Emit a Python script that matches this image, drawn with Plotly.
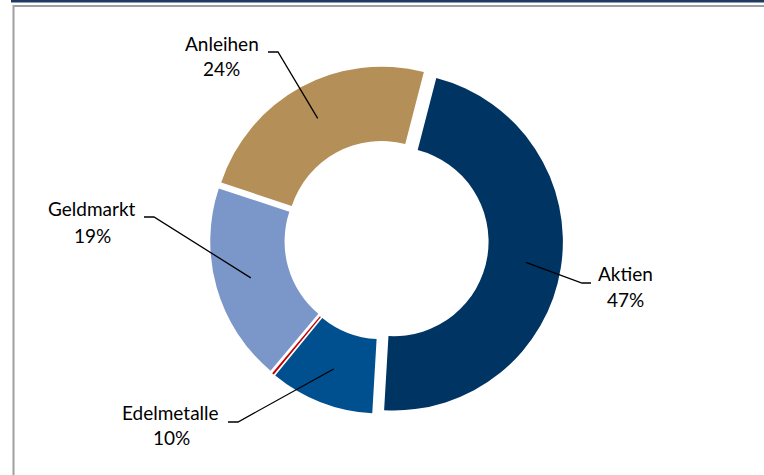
import math
import plotly.graph_objects as go

# ---- data ----
categories = ["Aktien", "Edelmetalle", "Sonstiges", "Geldmarkt", "Anleihen"]
values = [47, 10, 0.2, 19, 24]
pct_labels = ["47%", "10%", "", "19%", "24%"]
colors = ["#003462", "#00508F", "#C00000", "#7B96C8", "#B58F58"]
pulls = [0.06, 0.03, 0.03, 0.03, 0.03]

# ---- layout config (pixels) ----
W, H = 764, 475
CX, CY = 384, 240          # pie centre
DOM = 358                  # pie domain size (px)
ROT = 14.5
HOLE = 0.56
ANCHOR_FRAC = 0.79
FONT = "Lato"
FS = 19
# label config: (elbow_near, elbow_far, line1_center, line2_center)
label_cfg = {
    "Anleihen":    ((278, 52), (268, 52), (222, 44), (221, 68)),
    "Geldmarkt":   ((154, 217), (144, 217), (92, 208), (92, 235)),
    "Edelmetalle": ((238, 422), (228, 422), (170, 412), (171, 437)),
    "Aktien":      ((582, 283), (591, 283), (625, 273), (625, 299)),
}

def px2paper(x, y):
    return x / W, 1 - y / H

x0, y0 = px2paper(CX - DOM / 2, CY + DOM / 2)
x1, y1 = px2paper(CX + DOM / 2, CY - DOM / 2)

fig = go.Figure(go.Pie(
    labels=categories, values=values, sort=False, direction="clockwise",
    rotation=ROT, hole=HOLE, pull=pulls, textinfo="none", hoverinfo="skip",
    marker=dict(colors=colors, line=dict(width=0)),
    domain=dict(x=[x0, x1], y=[y0, y1]), showlegend=False,
))

R = DOM / 2 / (1 + max(pulls))
total = sum(values)
shapes = []
annotations = []
cum = 0
for cat, v, p, pl in zip(categories, values, pulls, pct_labels):
    mid = math.radians(ROT + (cum + v / 2) / total * 360)
    cum += v
    if cat not in label_cfg:
        continue
    sx, sy = math.sin(mid), -math.cos(mid)
    ax = CX + sx * (p * R + ANCHOR_FRAC * R)
    ay = CY + sy * (p * R + ANCHOR_FRAC * R)
    near, far, l1, l2 = label_cfg[cat]
    pts = [(ax, ay), near, far]
    path = "M " + " L ".join(f"{px2paper(*q)[0]:.5f},{px2paper(*q)[1]:.5f}" for q in pts)
    shapes.append(dict(type="path", xref="paper", yref="paper", path=path,
                       line=dict(color="black", width=1.3)))
    for txt, (tx, ty) in ((cat, l1), (pl, l2)):
        px, py = px2paper(tx, ty)
        annotations.append(dict(text=txt, x=px, y=py, xref="paper", yref="paper",
                                showarrow=False, xanchor="center", yanchor="middle",
                                font=dict(family=FONT, size=FS, color="black")))

# frame lines
shapes += [
    dict(type="rect", xref="paper", yref="paper", x0=11 / W, x1=1, y0=1 - 2.5 / H, y1=1,
         fillcolor="#1F3A60", line=dict(width=0)),
    dict(type="line", xref="paper", yref="paper", x0=13 / W, x1=1, y0=1 - 6 / H, y1=1 - 6 / H,
         line=dict(color="#A0A0A0", width=2)),
    dict(type="line", xref="paper", yref="paper", x0=13.5 / W, x1=13.5 / W, y0=0, y1=1 - 5 / H,
         line=dict(color="#A0A0A0", width=2)),
]

fig.update_layout(width=W, height=H, margin=dict(l=0, r=0, t=0, b=0),
                  paper_bgcolor="white", plot_bgcolor="white",
                  shapes=shapes, annotations=annotations)
fig.write_html("out.html", config={"displayModeBar": False},
               post_script="document.body.style.margin='0';")
